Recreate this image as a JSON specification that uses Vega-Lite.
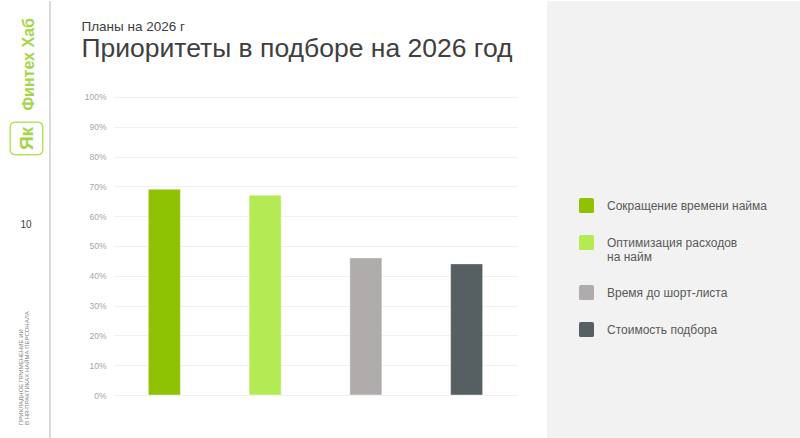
{
  "$schema": "https://vega.github.io/schema/vega-lite/v6.json",
  "background": "white",
  "padding": 0,
  "spacing": 30,
  "config": {
    "view": {"stroke": null},
    "font": "Liberation Sans"
  },
  "hconcat": [
    {
      "width": 50,
      "height": 438,
      "data": {
        "values": [
          {"item": "brand", "text": "Финтех Хаб"},
          {"item": "logo", "text": "Як"},
          {"item": "page", "text": "10"},
          {"item": "footer1", "text": "ПРИКЛАДНОЕ ПРИМЕНЕНИЕ ИИ"},
          {"item": "footer2", "text": "В HR-ПРАКТИКАХ НАЙМА ПЕРСОНАЛА"}
        ]
      },
      "resolve": {"scale": {"x": "shared", "y": "shared"}},
      "layer": [
        {
          "mark": {"type": "rule", "color": "#d9d9d9", "strokeWidth": 1},
          "encoding": {
            "x": {"datum": 100, "type": "quantitative", "scale": {"domain": [0, 100]}, "axis": null}
          }
        },
        {
          "transform": [{"filter": "datum.item === 'brand'"}],
          "mark": {"type": "text", "angle": 270, "align": "right", "baseline": "middle", "fontSize": 16, "fontWeight": "bold", "color": "#a5d64a"},
          "encoding": {
            "x": {"datum": 57, "type": "quantitative", "scale": {"domain": [0, 100]}, "axis": null},
            "y": {"datum": 3.9, "type": "quantitative", "scale": {"domain": [0, 100], "reverse": true}, "axis": null},
            "text": {"field": "text"}
          }
        },
        {
          "transform": [{"filter": "datum.item === 'logo'"}],
          "mark": {"type": "point", "shape": "M-0.7,-1 L0.7,-1 Q1,-1 1,-0.7 L1,0.7 Q1,1 0.7,1 L-0.7,1 Q-1,1 -1,0.7 L-1,-0.7 Q-1,-1 -0.7,-1 Z", "filled": false, "size": 1050, "stroke": "#b7e263", "strokeWidth": 1.5, "opacity": 1},
          "encoding": {
            "x": {"datum": 53, "type": "quantitative", "scale": {"domain": [0, 100]}, "axis": null},
            "y": {"datum": 31.4, "type": "quantitative", "scale": {"domain": [0, 100], "reverse": true}, "axis": null}
          }
        },
        {
          "transform": [{"filter": "datum.item === 'logo'"}],
          "mark": {"type": "text", "angle": 270, "align": "center", "baseline": "middle", "fontSize": 19, "fontWeight": "bold", "color": "#a5d64a"},
          "encoding": {
            "x": {"datum": 53, "type": "quantitative", "scale": {"domain": [0, 100]}, "axis": null},
            "y": {"datum": 31.4, "type": "quantitative", "scale": {"domain": [0, 100], "reverse": true}, "axis": null},
            "text": {"field": "text"}
          }
        },
        {
          "transform": [{"filter": "datum.item === 'page'"}],
          "mark": {"type": "text", "align": "center", "baseline": "middle", "fontSize": 10, "color": "#404040"},
          "encoding": {
            "x": {"datum": 52, "type": "quantitative", "scale": {"domain": [0, 100]}, "axis": null},
            "y": {"datum": 51.1, "type": "quantitative", "scale": {"domain": [0, 100], "reverse": true}, "axis": null},
            "text": {"field": "text"}
          }
        },
        {
          "transform": [{"filter": "datum.item === 'footer1'"}],
          "mark": {"type": "text", "angle": 270, "align": "left", "baseline": "middle", "fontSize": 6, "color": "#7f7f7f"},
          "encoding": {
            "x": {"datum": 42, "type": "quantitative", "scale": {"domain": [0, 100]}, "axis": null},
            "y": {"datum": 96.8, "type": "quantitative", "scale": {"domain": [0, 100], "reverse": true}, "axis": null},
            "text": {"field": "text"}
          }
        },
        {
          "transform": [{"filter": "datum.item === 'footer2'"}],
          "mark": {"type": "text", "angle": 270, "align": "left", "baseline": "middle", "fontSize": 6, "color": "#7f7f7f"},
          "encoding": {
            "x": {"datum": 54, "type": "quantitative", "scale": {"domain": [0, 100]}, "axis": null},
            "y": {"datum": 96.8, "type": "quantitative", "scale": {"domain": [0, 100], "reverse": true}, "axis": null},
            "text": {"field": "text"}
          }
        }
      ]
    },
    {
      "width": 403,
      "height": 394,
      "title": {
        "text": "Планы на 2026 г",
        "subtitle": "Приоритеты в подборе на 2026 год",
        "anchor": "start",
        "frame": "group",
        "dx": -32.5,
        "font": "Liberation Sans",
        "fontSize": 13.5,
        "fontWeight": "normal",
        "color": "#404040",
        "subtitleFont": "Liberation Sans",
        "subtitleFontSize": 26.5,
        "subtitleColor": "#404040",
        "subtitlePadding": 2,
        "offset": -61
      },
      "data": {
        "values": [
          {"category": "Сокращение времени найма", "share": 0.69},
          {"category": "Оптимизация расходов на найм", "share": 0.67},
          {"category": "Время до шорт-листа", "share": 0.46},
          {"category": "Стоимость подбора", "share": 0.44}
        ]
      },
      "mark": {"type": "bar", "size": 32, "stroke": "#ffffff", "strokeOpacity": 0.4, "strokeWidth": 1},
      "encoding": {
        "x": {
          "field": "category",
          "type": "nominal",
          "sort": null,
          "axis": null,
          "scale": {"paddingInner": 0, "paddingOuter": 0}
        },
        "y": {
          "field": "share",
          "type": "quantitative",
          "scale": {"domain": [0, 1.3221], "nice": false},
          "axis": {
            "title": null,
            "values": [0, 0.1, 0.2, 0.3, 0.4, 0.5, 0.6, 0.7, 0.8, 0.9, 1],
            "format": ".0%",
            "domain": false,
            "ticks": false,
            "grid": true,
            "gridColor": "#f0f0f0",
            "gridWidth": 1,
            "labelColor": "#a6a6a6",
            "labelFontSize": 8.5,
            "labelFont": "Liberation Sans",
            "labelPadding": 8
          }
        },
        "color": {
          "field": "category",
          "type": "nominal",
          "sort": null,
          "scale": {
            "domain": ["Сокращение времени найма", "Оптимизация расходов на найм", "Время до шорт-листа", "Стоимость подбора"],
            "range": ["#8dc303", "#b4eb55", "#b0acab", "#565f61"]
          },
          "legend": {
            "title": null,
            "orient": "none",
            "legendX": 579,
            "legendY": 197,
            "symbolType": "M-0.75,-1 L0.75,-1 Q1,-1 1,-0.75 L1,0.75 Q1,1 0.75,1 L-0.75,1 Q-1,1 -1,0.75 L-1,-0.75 Q-1,-1 -0.75,-1 Z",
            "symbolSize": 225,
            "symbolStrokeWidth": 0,
            "symbolOpacity": 1,
            "labelFont": "Liberation Sans",
            "labelFontSize": 12,
            "labelColor": "#595959",
            "labelOffset": 13,
            "labelLimit": 300,
            "rowPadding": 22,
            "labelExpr": "datum.label === 'Оптимизация расходов на найм' ? ['Оптимизация расходов', 'на найм'] : datum.label"
          }
        }
      }
    },
    {
      "width": 260,
      "height": 438,
      "data": {"values": [{}]},
      "mark": {"type": "rect", "color": "#f2f2f2"},
      "encoding": {}
    }
  ]
}
